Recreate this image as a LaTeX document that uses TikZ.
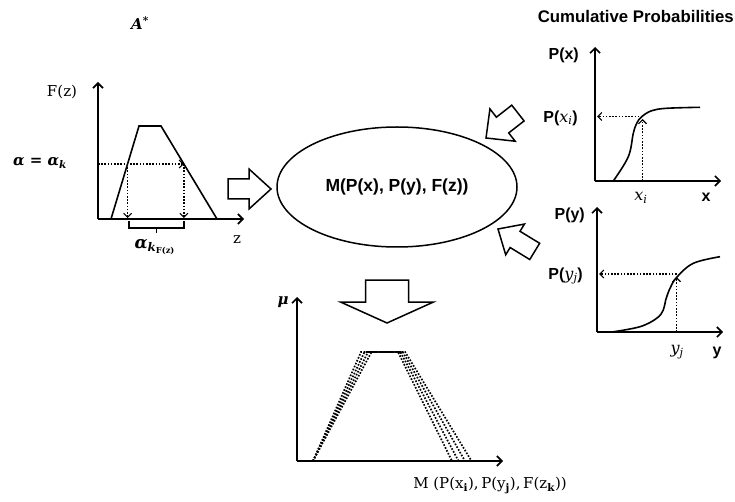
\documentclass[tikz,border=0pt]{standalone}
\usepackage{fontspec}
\newfontfamily\arialfont{Liberation Sans}
\newfontfamily\dvs{DejaVu Serif}
\usetikzlibrary{arrows.meta,shapes.geometric}
\newcommand{\blockarr}[6]{%
  \draw[barrow, shift={(#1)}, rotate=#2] (0,0) -- (-#3,#4) -- (-#3,#5) -- ({-#3-#6},#5)
    -- ({-#3-#6},-#5) -- (-#3,-#5) -- (-#3,-#4) -- cycle;}
\begin{document}
\begin{tikzpicture}[x=1pt,y=-1pt,
  axis/.style={line width=1.6pt, -{Straight Barb[length=5pt,width=10pt,line width=1.6pt]}},
  curve/.style={line width=1.6pt},
  dotl/.style={line width=1.7pt, dash pattern=on 1.6pt off 1.6pt},
  dotarr/.style={dotl, -{Straight Barb[length=4pt,width=8pt,line width=1.1pt]}},
  barrow/.style={line width=1.5pt, line join=miter, fill=white},
  sfb/.style={font=\arialfont\bfseries\fontsize{16}{19}\selectfont, inner sep=0pt},
  ser/.style={font=\dvs\fontsize{15}{18}\selectfont, inner sep=0pt},
  serbi/.style={font=\dvs\bfseries\itshape\fontsize{15}{18}\selectfont, inner sep=0pt}]
\useasboundingbox (0,0) rectangle (735,502);

% ---------------- left graph F(z)
\coordinate (lo) at (98,219);
\coordinate (ltop) at (98,82);
\coordinate (lend) at (244,219);
\draw[axis] (lo) -- (ltop);
\draw[axis] (lo) -- (lend);
\draw[curve, line join=miter] (111,219) -- (139,126) -- (161,126) -- (217,219);
\coordinate (la) at (98,164);
\coordinate (lp1) at (127.6,164);
\coordinate (lp2) at (183.9,164);
\coordinate (lb1) at (127.6,218);
\coordinate (lb2) at (183.9,218);
\draw[dotarr] (la) -- (lp2);
\draw[dotarr] (lp1) -- (lb1);
\draw[dotarr] (lp2) -- (lb2);
\draw[line width=1.5pt] (129,221) -- (129,228) -- (184,228) -- (184,221);
\draw[line width=1.5pt] (156.5,228) -- (156.5,233);
\node[serbi] (astar) at (140,23) {A\textsuperscript{*}};
\node[ser] (fz) at (62,92) {F(z)};
\node[serbi] (alpha) at (40,163) {α = α\textsubscript{k}};
\node[serbi, font=\dvs\bfseries\itshape\fontsize{17}{20}\selectfont] (alphak) at (155,247) {α\textsubscript{k\textsubscript{\upshape F(z)}}};
\node[ser] (zl) at (237,240) {z};

% ---------------- centre
\node[draw, ellipse, line width=1.5pt, minimum width=240pt, minimum height=120pt] (M) at (397,187) {};
\node[sfb, font=\arialfont\bfseries\fontsize{17.5}{20}\selectfont] (Mt) at (M) {M(P(x), P(y), F(z))};

% block arrows
\blockarr{271,189}{0}{22}{20}{10}{21}
\blockarr{486,138}{218}{21}{20.5}{10}{19.5}
\blockarr{498,229}{148.6}{20}{18}{9.5}{23}
\blockarr{387,323}{270}{21}{46.5}{21.5}{22}

\node[sfb, anchor=east, font=\arialfont\bfseries\fontsize{16.8}{20}\selectfont] (cum) at (734,16) {Cumulative Probabilities};

% ---------------- top right P(x)
\coordinate (xo) at (595,181);
\draw[axis] (xo) -- (595,47);
\draw[axis] (xo) -- (721,181);
\draw[curve] plot[smooth, tension=0.6] coordinates {(613.3,181) (628.3,156.7) (633.3,133.3) (636.7,123.3) (641.7,116.7) (651.7,110.7) (666.7,108.3) (700,107.3)};
\coordinate (xb) at (642.5,181);
\coordinate (xc) at (642.5,119);
\coordinate (xh) at (642.5,116.5);
\coordinate (xa) at (597,116.5);
\draw[dotarr] (xb) -- (xc);
\draw[dotarr] (xh) -- (xa);
\node[sfb, anchor=east] (px) at (579,55) {P(x)};
\node[sfb, anchor=east] (pxi) at (578,118) {P({\dvs\mdseries\itshape x\textsubscript{i}})};
\node[ser, font=\dvs\itshape\fontsize{16}{18}\selectfont] (xi) at (641,198) {x\textsubscript{i}};
\node[sfb] (xl) at (706,197) {x};

% ---------------- bottom right P(y)
\coordinate (yo) at (597,332);
\draw[axis] (yo) -- (597,207);
\draw[axis] (yo) -- (723,332);
\draw[curve] plot[smooth, tension=0.6] coordinates {(612,332) (640,326.7) (656.7,318.3) (663.3,310) (665.7,300) (670,288.3) (676.7,277.3) (693.3,263.3) (720,256.7)};
\coordinate (yb) at (676.5,332);
\coordinate (yc) at (676.5,277);
\coordinate (yh) at (676.5,274);
\coordinate (ya) at (599,274);
\draw[dotarr] (yb) -- (yc);
\draw[dotarr] (yh) -- (ya);
\node[sfb, anchor=east] (py) at (585,215) {P(y)};
\node[sfb, anchor=east] (pyj) at (583,276) {P({\dvs\mdseries\itshape y\textsubscript{j}})};
\node[ser, font=\dvs\itshape\fontsize{16}{18}\selectfont] (yj) at (677,352) {y\textsubscript{j}};
\node[sfb] (yl) at (717,353) {y};

% ---------------- bottom graph mu
\coordinate (mo) at (297,461);
\draw[axis] (mo) -- (297,297);
\draw[axis] (mo) -- (503,461);
\foreach \i in {0,1,2,3}{
  \draw[dotl] (313,461) -- ({361+3.5*\i},352) -- ({398+2.4*\i},352) -- ({452+6.5*\i},461);
}
\node[serbi] (mu) at (283,302) {μ};
\node[ser] (ml) at (490,485) {M (P(x\textsubscript{\bfseries i}),\,P(y\textsubscript{\bfseries j}),\,F(z\textsubscript{\bfseries k}))};
\end{tikzpicture}
\end{document}
